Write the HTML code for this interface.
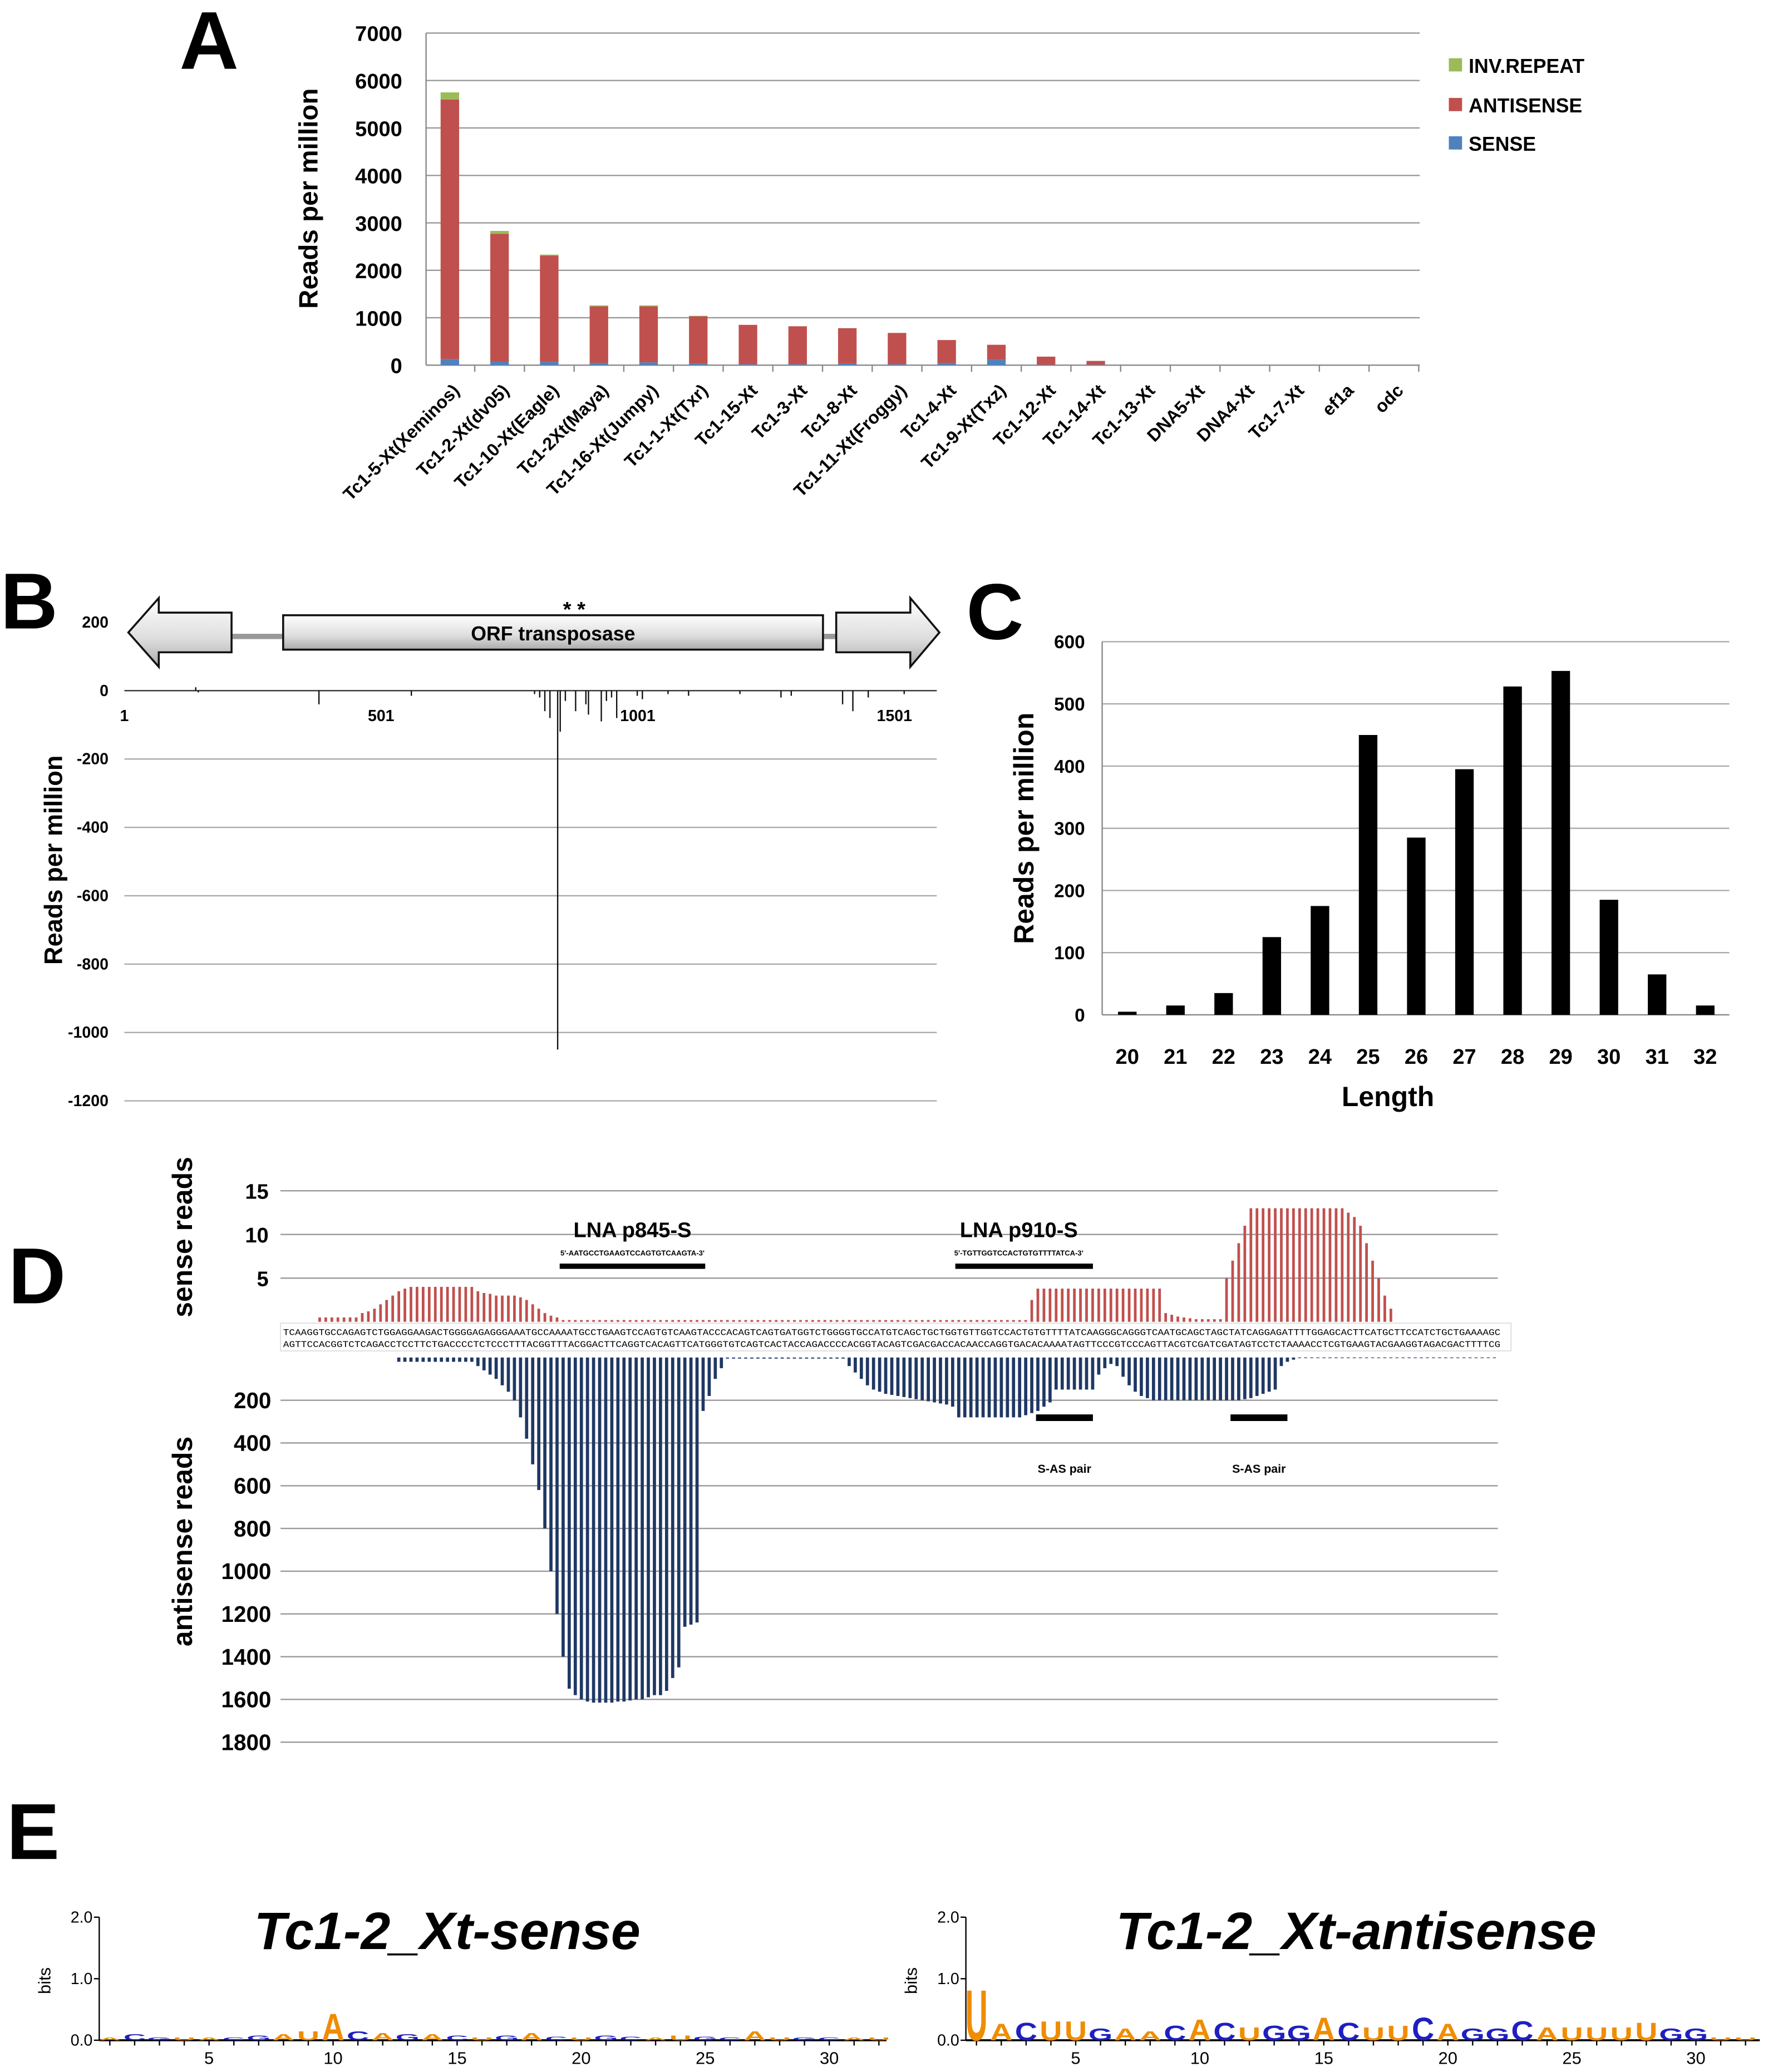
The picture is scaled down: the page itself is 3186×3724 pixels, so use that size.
<!DOCTYPE html>
<html><head><meta charset="utf-8">
<style>
html,body{margin:0;padding:0;background:#fff;}
svg{display:block;font-family:"Liberation Sans",sans-serif;}
</style></head>
<body>
<svg id="fig" width="3186" height="3724" viewBox="0 0 1340 1566" preserveAspectRatio="none" xmlns="http://www.w3.org/2000/svg">
<rect width="1340" height="1566" fill="#fff"/>
<g id="pA"></g>
<g id="pB"></g>
<g id="pC"></g>
<g id="pD"></g>
<g id="pE"></g>
</svg>
<script>
// ---------- Panel A data ----------
const aCategories=["Tc1-5-Xt(Xeminos)","Tc1-2-Xt(dv05)","Tc1-10-Xt(Eagle)","Tc1-2Xt(Maya)","Tc1-16-Xt(Jumpy)","Tc1-1-Xt(Txr)","Tc1-15-Xt","Tc1-3-Xt","Tc1-8-Xt","Tc1-11-Xt(Froggy)","Tc1-4-Xt","Tc1-9-Xt(Txz)","Tc1-12-Xt","Tc1-14-Xt","Tc1-13-Xt","DNA5-Xt","DNA4-Xt","Tc1-7-Xt","ef1a","odc"];
const aSense=[130,80,70,50,60,30,20,20,40,20,50,120,10,10,0,0,0,0,0,0];
const aAntisense=[5470,2690,2240,1190,1180,1000,830,800,740,660,480,310,170,80,0,0,0,0,0,0];
const aInvRepeat=[150,60,20,20,20,10,0,0,0,0,0,0,0,0,0,0,0,0,0,0];
const aTicks=[0,1000,2000,3000,4000,5000,6000,7000];
// ---------- Panel B data ----------
const bTicks=[200,0,-200,-400,-600,-800,-1000,-1200];
const bXTicks=[1,501,1001,1501];
const bPositions=[140,145,380,560,800,810,820,830,845,850,860,880,900,905,930,940,950,960,1000,1010,1060,1100,1200,1280,1300,1400,1420,1450,1520];
const bValues=[10,-5,-40,-15,-10,-20,-60,-80,-1050,-120,-30,-60,-40,-70,-90,-30,-20,-80,-15,-25,-10,-15,-10,-20,-15,-40,-60,-20,-10];
// ---------- Panel C data ----------
const cCategories=[20,21,22,23,24,25,26,27,28,29,30,31,32];
const cValues=[5,15,35,125,175,450,285,395,528,553,185,65,15];
const cTicks=[0,100,200,300,400,500,600];
// ---------- Panel D data ----------
const dSenseTicks=[5,10,15];
const dAntiTicks=[200,400,600,800,1000,1200,1400,1600,1800];
const dSense=[0,0,0,0,0,0,
0.5,0.5,0.5,0.5,0.5,0.5,0.5,
1,1.2,1.5,2,2.5,3,3.5,3.8,
4,4,4,4,4,4,4,4,4,4,4,
3.5,3.3,3.2,3,3,3,3,2.8,
2.5,2,1.5,1,0.7,0.5,
0.2,0.2,0.2,0.2,0.2,0.2,0.2,0.2,0.2,0.2,0.2,0.2,0.2,0.2,0.2,0.2,0.2,0.2,0.2,0.2,0.2,0.2,0.2,0.2,0.2,0.2,0.2,0.2,0.2,0.2,0.2,0.2,0.2,0.2,0.2,0.2,0.2,0.2,0.2,0.2,0.2,0.2,0.2,0.2,0.2,0.2,0.2,
0.2,0.2,0.2,0.2,0.2,0.2,0.2,0.2,0.2,0.2,0.2,0.2,0.2,0.2,0.2,0.2,0.2,0.2,0.2,0.2,0.2,0.2,0.2,0.2,0.2,0.2,0.2,0.2,0.2,0.2,
2.5,3.8,3.8,3.8,3.8,3.8,3.8,3.8,3.8,3.8,3.8,3.8,3.8,3.8,3.8,3.8,3.8,3.8,3.8,3.8,3.8,3.8,
1,0.8,0.6,0.5,0.4,0.3,0.3,0.3,0.3,0.3,
5,7,9,11,
13,13,13,13,13,13,13,13,13,13,13,13,13,13,13,13,
12.5,12,11,9,7,5,3,1.5,
0,0,0,0,0,0,0,0,0,0,0,0,0,0,0,0,0];
const dAntisense=[0,0,0,0,0,0,0,0,0,0,0,0,0,0,0,0,0,0,0,
20,20,20,20,20,20,20,20,20,20,20,20,20,
40,60,80,100,130,160,
200,280,380,500,620,
800,1000,1200,1400,
1550,1580,1600,1610,1615,1615,1615,1615,1610,1610,1605,1600,1600,1590,1580,1580,1560,1500,1450,
1260,1250,1240,
250,180,100,50,
5,5,5,5,5,5,5,5,5,5,5,5,5,5,5,5,5,5,5,5,
40,70,100,130,150,
160,170,175,180,185,190,195,200,205,210,215,220,230,
280,280,280,280,280,280,280,280,280,280,280,
270,260,250,230,210,
150,150,150,150,150,150,150,
80,50,30,40,
90,130,160,180,190,
200,200,200,200,200,200,200,200,200,200,200,200,200,200,200,
195,190,180,170,160,150,
40,20,10,
3,3,3,3,3,3,3,3,3,3,3,3,3,3,3,3,3,3,3,3,3,3,3,3,3,3,3,3,3,3,3,3,3];
// ---------- Panel E data ----------
const eSenseLetters=["A","C","G","U","A","C","G","A","U","A","C","A","G","A","C","U","G","A","C","U","G","C","A","U","G","C","A","U","G","C","A","U"];
const eSenseBits=[0.05,0.1,0.05,0.05,0.05,0.05,0.08,0.1,0.15,0.45,0.15,0.12,0.1,0.1,0.08,0.05,0.08,0.12,0.06,0.05,0.08,0.06,0.05,0.08,0.06,0.05,0.15,0.05,0.05,0.05,0.05,0.05];
const eAntiLetters=["U","A","C","U","U","G","A","A","C","A","C","U","G","G","A","C","U","U","C","A","G","G","C","A","U","U","U","U","G","G","U","U"];
const eAntiBits=[0.85,0.28,0.3,0.32,0.32,0.2,0.2,0.15,0.25,0.35,0.3,0.22,0.25,0.25,0.38,0.3,0.22,0.25,0.38,0.28,0.2,0.2,0.32,0.22,0.22,0.22,0.22,0.3,0.2,0.2,0.05,0.05];

const NS="http://www.w3.org/2000/svg";
function mk(parent,tag,attrs,txt){const e=document.createElementNS(NS,tag);for(const k in attrs)e.setAttribute(k,attrs[k]);if(txt!==undefined)e.textContent=txt;parent.appendChild(e);return e;}

// ======== Panel A ========
(function(){
const g=document.getElementById('pA');
const x0=322,x1=1073,yTop=25,yBot=276,maxV=7000;
const y=v=>yBot-(v/maxV)*(yBot-yTop);
const xc=i=>340+i*37.55;
let t=mk(g,'text',{x:158,y:52,'font-size':62,'font-weight':'bold','text-anchor':'middle'},'A');

aTicks.forEach(v=>{
 let l=mk(g,'line',{x1:x0,x2:x1,y1:y(v),y2:y(v),stroke:v===0?'#888':'#999','stroke-width':1});
 
 let tt=mk(g,'text',{x:304,y:y(v)+6,'font-size':16,'font-weight':'bold','text-anchor':'end'},String(v));
 
});
let ax=mk(g,'line',{x1:x0,x2:x0,y1:yTop,y2:yBot,stroke:'#888'});

let yt=mk(g,'text',{x:0,y:0,'font-size':20,'font-weight':'bold','text-anchor':'middle',transform:'translate(240,150) rotate(-90)'},'Reads per million');

aCategories.forEach((c,i)=>{
 const bw=14,cx=xc(i);
 const s=aSense[i],a=aAntisense[i],r=aInvRepeat[i];
 let b1=mk(g,'rect',{x:cx-bw/2,y:y(s),width:bw,height:yBot-y(s),fill:'#4f81bd'});
 
 let b2=mk(g,'rect',{x:cx-bw/2,y:y(s+a),width:bw,height:y(s)-y(s+a),fill:'#c0504d'});
 
 let b3=mk(g,'rect',{x:cx-bw/2,y:y(s+a+r),width:bw,height:y(s+a)-y(s+a+r),fill:'#9bbb59'});
 
 let tk=mk(g,'line',{x1:cx+18.8,x2:cx+18.8,y1:yBot,y2:yBot+5,stroke:'#888'});
 
 let lb=mk(g,'text',{x:0,y:0,'font-size':13.5,'font-weight':'bold','text-anchor':'end',transform:`translate(${cx+8},${yBot+20}) rotate(-45)`},c);
 
});
const leg=[['INV.REPEAT','#9bbb59',49],['ANTISENSE','#c0504d',79],['SENSE','#4f81bd',108]];
leg.forEach(([n,c,yy])=>{
 let r=mk(g,'rect',{x:1095,y:yy-5,width:10,height:10,fill:c});
 
 let tt=mk(g,'text',{x:1110,y:yy+6,'font-size':15,'font-weight':'bold'},n);
 
});
})();

// ======== Panel B ========
(function(){
const g=document.getElementById('pB');
const x0=94,x1=708,y0=522,sc=310/1200;
const y=v=>y0-v*sc;
const x=p=>x0+(p-1)*0.388;
let t=mk(g,'text',{x:22,y:475,'font-size':60,'font-weight':'bold','text-anchor':'middle'},'B');

bTicks.forEach(v=>{
 if(v<0){let l=mk(g,'line',{x1:x0,x2:x1,y1:y(v),y2:y(v),stroke:'#aaa'});
 }
 let tt=mk(g,'text',{x:82,y:y(v)+4,'font-size':12,'font-weight':'bold','text-anchor':'end'},String(v));
 
});
let ax=mk(g,'line',{x1:x0,x2:x1,y1:y0,y2:y0,stroke:'#333','stroke-width':1});

bXTicks.forEach(p=>{
 let tt=mk(g,'text',{x:x(p),y:545,'font-size':12,'font-weight':'bold','text-anchor':'middle'},String(p));
 
});
let yt=mk(g,'text',{x:0,y:0,'font-size':19,'font-weight':'bold','text-anchor':'middle',transform:'translate(47,650) rotate(-90)'},'Reads per million');

bPositions.forEach((p,i)=>{
 let l=mk(g,'line',{x1:x(p),x2:x(p),y1:y0,y2:y(bValues[i]),stroke:'#111','stroke-width':1});
 
});
const gd=mk(g,'g',{});

mk(gd,'defs',{}).innerHTML='<linearGradient id="gr" x1="0" y1="0" x2="0" y2="1"><stop offset="0" stop-color="#fff"/><stop offset="0.6" stop-color="#ddd"/><stop offset="1" stop-color="#aaa"/></linearGradient>';
let ln=mk(gd,'line',{x1:175,x2:632,y1:481,y2:481,stroke:'#999','stroke-width':4});

let la=mk(gd,'path',{d:'M97,478 L120,452 L120,463 L175,463 L175,493 L120,493 L120,504 Z',fill:'url(#gr)',stroke:'#111','stroke-width':1.5});

let ra=mk(gd,'path',{d:'M632,463 L688,463 L688,452 L710,478 L688,504 L688,493 L632,493 Z',fill:'url(#gr)',stroke:'#111','stroke-width':1.5});

let orf=mk(gd,'rect',{x:214,y:465,width:408,height:26,fill:'url(#gr)',stroke:'#111','stroke-width':1.5});

let ot=mk(gd,'text',{x:418,y:484,'font-size':15,'font-weight':'bold','text-anchor':'middle'},'ORF transposase');

let st=mk(gd,'text',{x:434,y:466,'font-size':16,'font-weight':'bold','text-anchor':'middle'},'*   *');

})();

// ======== Panel C ========
(function(){
const g=document.getElementById('pC');
const x0=833,x1=1307,y0=767,yTop=485,maxV=600;
const y=v=>y0-(v/maxV)*(y0-yTop);
const xc=i=>852+i*36.4;
let t=mk(g,'text',{x:752,y:483,'font-size':60,'font-weight':'bold','text-anchor':'middle'},'C');

cTicks.forEach(v=>{
 let l=mk(g,'line',{x1:x0,x2:x1,y1:y(v),y2:y(v),stroke:v===0?'#888':'#aaa'});
 
 let tt=mk(g,'text',{x:820,y:y(v)+5,'font-size':14,'font-weight':'bold','text-anchor':'end'},String(v));
 
});
let ax=mk(g,'line',{x1:x0,x2:x0,y1:yTop,y2:y0,stroke:'#888'});

cCategories.forEach((c,i)=>{
 let b=mk(g,'rect',{x:xc(i)-7,y:y(cValues[i]),width:14,height:y0-y(cValues[i]),fill:'#000'});
 
 let tt=mk(g,'text',{x:xc(i),y:804,'font-size':16,'font-weight':'bold','text-anchor':'middle'},String(c));
 
});
let xt=mk(g,'text',{x:1049,y:836,'font-size':21,'font-weight':'bold','text-anchor':'middle'},'Length');

let yt=mk(g,'text',{x:0,y:0,'font-size':21,'font-weight':'bold','text-anchor':'middle',transform:'translate(781,626) rotate(-90)'},'Reads per million');

})();

// ======== Panel D ========
(function(){
const g=document.getElementById('pD');
const x0=212,x1=1132;
const ys0=999,ssc=6.6,ya0=1026,asc=32.3/200;
const ys=v=>ys0-v*ssc, ya=v=>ya0+v*asc;
const xb=i=>214+i*4.6;
let t=mk(g,'text',{x:28,y:985,'font-size':60,'font-weight':'bold','text-anchor':'middle'},'D');

dSenseTicks.forEach(v=>{
 let l=mk(g,'line',{x1:x0,x2:x1,y1:ys(v),y2:ys(v),stroke:'#999'});
 
 let tt=mk(g,'text',{x:203,y:ys(v)+6,'font-size':16,'font-weight':'bold','text-anchor':'end'},String(v));
 
});
dAntiTicks.forEach(v=>{
 let l=mk(g,'line',{x1:x0,x2:x1,y1:ya(v),y2:ya(v),stroke:'#999'});
 
 let tt=mk(g,'text',{x:205,y:ya(v)+6,'font-size':17,'font-weight':'bold','text-anchor':'end'},String(v));
 
});
let t1=mk(g,'text',{x:0,y:0,'font-size':21,'font-weight':'bold','text-anchor':'middle',transform:'translate(145,935) rotate(-90)'},'sense reads');

let t2=mk(g,'text',{x:0,y:0,'font-size':21,'font-weight':'bold','text-anchor':'middle',transform:'translate(145,1165) rotate(-90)'},'antisense reads');

dSense.forEach((v,i)=>{
 if(v<=0)return;
 let b=mk(g,'rect',{x:xb(i)-1,y:ys(v),width:2,height:ys0-ys(v),fill:'#c0504d'});
 
});
dAntisense.forEach((v,i)=>{
 if(v<=0)return;
 let b=mk(g,'rect',{x:xb(i)-1.2,y:ya0,width:2.4,height:ya(v)-ya0,fill:'#1f3864'});
 
});
let sb=mk(g,'rect',{x:212,y:1000,width:930,height:21,fill:'#fff',stroke:'#ccc','stroke-width':0.5});

const s1='TCAAGGTGCCAGAGTCTGGAGGAAGACTGGGGAGAGGGAAATGCCAAAATGCCTGAAGTCCAGTGTCAAGTACCCACAGTCAGTGATGGTCTGGGGTGCCATGTCAGCTGCTGGTGTTGGTCCACTGTGTTTTATCAAGGGCAGGGTCAATGCAGCTAGCTATCAGGAGATTTTGGAGCACTTCATGCTTCCATCTGCTGAAAAGC';
const s2='AGTTCCACGGTCTCAGACCTCCTTCTGACCCCTCTCCCTTTACGGTTTACGGACTTCAGGTCACAGTTCATGGGTGTCAGTCACTACCAGACCCCACGGTACAGTCGACGACCACAACCAGGTGACACAAAATAGTTCCCGTCCCAGTTACGTCGATCGATAGTCCTCTAAAACCTCGTGAAGTACGAAGGTAGACGACTTTTCG';
let q1=mk(g,'text',{x:214,y:1009,'font-size':6.5,'font-family':'Liberation Mono, monospace',textLength:920,lengthAdjust:'spacingAndGlyphs'},s1);

let q2=mk(g,'text',{x:214,y:1018,'font-size':6.5,'font-family':'Liberation Mono, monospace',textLength:920,lengthAdjust:'spacingAndGlyphs'},s2);

const lab=[['LNA p845-S',478,"5'-AATGCCTGAAGTCCAGTGTCAAGTA-3'",423,533],['LNA p910-S',770,"5'-TGTTGGTCCACTGTGTTTTATCA-3'",722,826]];
lab.forEach(([n,cx,seq,a,b])=>{
 let tt=mk(g,'text',{x:cx,y:935,'font-size':16,'font-weight':'bold','text-anchor':'middle'},n);
 
 let s=mk(g,'text',{x:cx,y:949,'font-size':5.5,'font-weight':'bold','text-anchor':'middle'},seq);
 
 let r=mk(g,'rect',{x:a,y:955,width:b-a,height:4,fill:'#000'});
 
});
[[783,826],[930,973]].forEach(([a,b])=>{
 let r=mk(g,'rect',{x:a,y:1069,width:b-a,height:5,fill:'#000'});
 
 let tt=mk(g,'text',{x:(a+b)/2,y:1113,'font-size':9,'font-weight':'bold','text-anchor':'middle'},'S-AS pair');
 
});
})();

// ======== Panel E ========
(function(){
const g=document.getElementById('pE');
let t=mk(g,'text',{x:25,y:1405,'font-size':60,'font-weight':'bold','text-anchor':'middle'},'E');

function logo(ax,px1,letters,bits,title,tcx,name){
 const gg=mk(g,'g',{});
 
 const y0=1542,ppb=46.5,step=18.75;
 const xp=p=>ax+8+(p-1)*step;
 let a=mk(gg,'line',{x1:ax,x2:ax,y1:1449,y2:y0,stroke:'#000'});
 
 let b=mk(gg,'line',{x1:ax,x2:px1,y1:y0,y2:y0,stroke:'#000','stroke-width':1.5});
 
 [['2.0',2],['1.0',1],['0.0',0]].forEach(([l,v])=>{
  let tk=mk(gg,'line',{x1:ax-4,x2:ax,y1:y0-v*ppb,y2:y0-v*ppb,stroke:'#000'});
  
  let tt=mk(gg,'text',{x:ax-5,y:y0-v*ppb+4,'font-size':12,'text-anchor':'end'},l);
  
 });
 let yl=mk(gg,'text',{x:0,y:0,'font-size':13,'text-anchor':'middle',transform:`translate(${ax-37},1497) rotate(-90)`},'bits');
 
 letters.forEach((L,i)=>{
  const p=i+1,x=xp(p);
  let tk=mk(gg,'line',{x1:x,x2:x,y1:y0,y2:y0+4,stroke:'#000'});
  
  if(p%5===0){let tt=mk(gg,'text',{x:x,y:y0+18,'font-size':13,'text-anchor':'middle'},String(p));
   }
  const h=bits[i]*ppb;
  const col=(L==='A'||L==='U')?'#f08c00':'#1f1fc0';
  let lt=mk(gg,'text',{x:0,y:0,'font-size':20,'font-weight':'bold','text-anchor':'middle',fill:col,transform:`translate(${x},${y0}) scale(${step/16},${h/14.5})`},L);
  
 });
 let ti=mk(gg,'text',{x:tcx,y:1473,'font-size':40,'font-weight':'bold','font-style':'italic','text-anchor':'middle'},title);
 
}
logo(75,670,eSenseLetters,eSenseBits,'Tc1-2_Xt-sense',338,'sense-logo');
logo(730,1330,eAntiLetters,eAntiBits,'Tc1-2_Xt-antisense',1025,'antisense-logo');
})();
</script>
</body></html>
